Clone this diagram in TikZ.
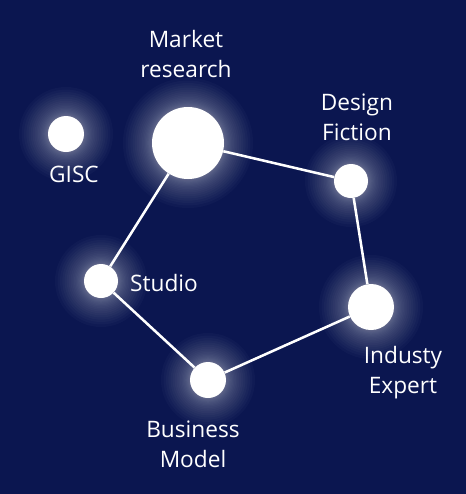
\documentclass[tikz,border=0pt]{standalone}
\usepackage{xcolor}
\usepackage{fontspec}
\setmainfont{Open Sans}
\usetikzlibrary{positioning}
\definecolor{navybg}{HTML}{0B1650}

\begin{document}
\begin{tikzpicture}[
  x=0.75pt, y=-0.75pt,
  dot/.style={circle, fill=white, inner sep=0pt},
  lbl/.style={text=white, align=center, anchor=base, inner sep=0pt, font=\fontsize{17}{22.5}\selectfont},
  link/.style={draw=white, line width=1.9pt}
]
\fill[navybg] (0,0) rectangle (466,494);

% soft glow round each dot
\foreach \px/\py/\r in {66/134/18, 188/143/36, 351/181/17, 371/307/23, 208/380/18, 101/281/17}
  \foreach \k in {1,...,22}
    \fill[white, opacity=0.024] (\px,\py) circle[radius=\r+0.06*\k*\k];

\node[dot, minimum size=27pt] (gisc) at (66,134) {};
\node[dot, minimum size=54pt] (market) at (188,143) {};
\node[dot, minimum size=25.5pt] (design) at (351,181) {};
\node[dot, minimum size=34.5pt] (expert) at (371,307) {};
\node[dot, minimum size=27pt] (business) at (208,380) {};
\node[dot, minimum size=25.5pt] (studio) at (101,281) {};

\node[lbl] (giscl) at (74,182) {GISC};
\node[lbl] (marketl) at (186,77) {Market\\research};
\node[lbl] (designl) at (357,140) {Design\\Fiction};
\node[lbl] (expertl) at (403,393) {Industy\\Expert};
\node[lbl] (businessl) at (193,467) {Business\\Model};
\node[lbl] (studiol) at (164,291) {Studio};

\draw[link] (market) -- (design);
\draw[link] (design) -- (expert);
\draw[link] (expert) -- (business);
\draw[link] (business) -- (studio);
\draw[link] (studio) -- (market);
\end{tikzpicture}
\end{document}
